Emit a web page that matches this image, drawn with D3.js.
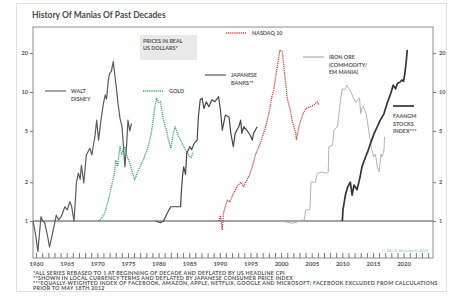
<!DOCTYPE html>
<html>
<head>
<meta charset="utf-8">
<script src="https://cdn.jsdelivr.net/npm/d3@7"></script>
<style>
  body { margin: 0; background: #fff; }
  text { font-family: Lato, "Open Sans", sans-serif; }
</style>
</head>
<body>
<div id="chart"></div>
<script>
const width = 451;
const height = 299;

// series, [year, value rebased to 1]
const disney = [[1959.5,1.0],[1959.9,0.8],[1960.3,0.58],[1960.8,1.08],[1961.1,1.0],[1961.4,0.97],[1961.8,0.8],[1962.2,0.63],[1962.8,0.85],[1963.3,1.11],[1963.7,1.02],[1964.1,1.08],[1964.7,1.29],[1965.1,1.22],[1965.5,1.41],[1965.8,1.3],[1966.2,1.0],[1966.6,2.0],[1966.9,2.35],[1967.2,2.1],[1967.4,2.7],[1967.8,1.97],[1968.2,3.25],[1968.8,3.66],[1969.1,3.25],[1969.6,4.5],[1969.9,6.05],[1970.2,4.24],[1970.6,6.05],[1971.0,8.15],[1971.3,9.5],[1971.5,8.8],[1971.8,12.4],[1972.0,13.9],[1972.3,14.5],[1972.6,17.2],[1972.9,12.9],[1973.1,10.9],[1973.4,8.0],[1973.7,6.25],[1974.0,5.5],[1974.2,4.24],[1974.5,2.63],[1974.8,4.0],[1975.0,6.05],[1975.3,5.0],[1975.6,5.7]];
const gold = [[1970.2,1.0],[1970.7,1.05],[1971.2,1.15],[1971.8,1.45],[1972.3,1.85],[1972.8,2.34],[1973.0,2.97],[1973.3,2.65],[1973.7,3.77],[1974.0,3.3],[1974.2,3.57],[1974.5,3.77],[1974.8,3.25],[1975.3,2.8],[1975.7,2.4],[1976.1,2.08],[1976.7,2.48],[1977.5,2.97],[1978.3,3.77],[1978.8,4.78],[1979.1,6.0],[1979.4,7.7],[1979.7,8.95],[1980.0,8.3],[1980.3,8.4],[1980.8,6.05],[1981.3,5.07],[1981.6,4.24],[1982.0,3.66],[1982.4,4.78],[1982.7,5.38],[1983.3,4.5],[1984.1,3.77],[1984.9,3.25],[1985.3,3.1],[1985.7,3.45]];
const japaneseBanks = [[1979.5,1.0],[1980.3,0.97],[1980.8,1.0],[1981.4,1.15],[1982.0,1.29],[1983.6,1.29],[1983.7,1.64],[1983.9,2.2],[1984.1,2.63],[1984.4,2.3],[1984.6,3.35],[1985.1,3.77],[1985.4,3.57],[1985.8,4.0],[1986.3,4.24],[1986.5,6.43],[1986.8,8.7],[1987.1,8.95],[1987.4,7.45],[1987.8,8.4],[1988.2,7.7],[1988.7,8.7],[1989.2,8.4],[1989.8,9.2],[1990.1,7.25],[1990.4,5.07],[1990.9,6.63],[1991.5,6.4],[1991.8,4.78],[1992.2,3.77],[1992.5,4.78],[1993.1,5.38],[1993.4,6.05],[1993.6,4.78],[1993.9,5.38],[1994.4,5.07],[1995.0,4.6],[1995.3,4.24],[1995.5,4.78],[1996.1,5.38]];
const nasdaq = [[1989.8,1.0],[1990.1,1.1],[1990.4,0.85],[1990.6,1.15],[1991.2,1.45],[1991.6,1.4],[1992.0,1.55],[1992.8,1.85],[1993.4,2.0],[1993.9,1.85],[1994.4,2.08],[1994.9,2.3],[1995.3,2.63],[1995.8,3.25],[1996.6,4.0],[1997.4,5.2],[1998.0,6.8],[1998.5,9.2],[1998.8,10.4],[1999.3,14.8],[1999.8,21.2],[2000.2,20.5],[2000.4,16.7],[2000.7,12.4],[2001.0,8.9],[2001.5,7.25],[2001.8,6.05],[2002.4,4.78],[2002.5,4.24],[2002.9,5.38],[2003.4,6.43],[2004.0,7.45],[2004.8,7.7],[2005.3,7.9],[2005.9,8.4],[2006.2,7.9]];
const ironOre = [[1999.9,1.0],[2001.0,0.98],[2001.8,0.96],[2002.6,0.98],[2003.0,1.01],[2003.8,1.02],[2004.0,1.22],[2004.7,1.22],[2004.9,2.0],[2005.6,2.0],[2005.9,2.34],[2006.6,2.4],[2007.4,2.34],[2007.7,2.4],[2007.8,3.77],[2008.4,3.85],[2008.6,5.07],[2009.2,5.38],[2009.4,6.43],[2009.7,8.7],[2010.0,10.6],[2010.4,10.4],[2010.7,11.3],[2011.1,10.6],[2011.4,10.0],[2011.8,9.0],[2012.2,8.3],[2012.5,8.7],[2012.8,9.0],[2013.0,6.8],[2013.2,7.5],[2013.4,7.7],[2013.9,6.8],[2014.3,5.07],[2014.7,3.77],[2015.1,3.15],[2015.4,3.3],[2015.7,2.63],[2016.0,2.4],[2016.3,3.3],[2016.5,3.15],[2016.8,3.55],[2016.9,4.5]];
const faangm = [[2010.0,1.0],[2010.1,1.22],[2010.5,1.59],[2010.9,1.85],[2011.3,2.0],[2011.6,1.59],[2011.9,1.9],[2012.4,1.75],[2012.9,2.2],[2013.2,2.63],[2013.8,3.15],[2014.1,3.4],[2014.6,4.0],[2015.2,4.78],[2015.7,5.38],[2016.2,6.05],[2016.8,6.8],[2017.3,8.15],[2017.9,9.75],[2018.3,11.3],[2018.7,10.6],[2019.0,11.7],[2019.4,11.9],[2019.7,12.4],[2020.0,12.1],[2020.2,13.9],[2020.4,16.7],[2020.6,21.2]];

const yTicks = [1, 2, 5, 10, 20];
const yearTicks = d3.range(1960, 2025);
const yearLabels = d3.range(1960, 2021, 5);

const footnotes = [
  "*ALL SERIES REBASED TO 1 AT BEGINNING OF DECADE AND DEFLATED BY US HEADLINE CPI",
  "**SHOWN IN LOCAL CURRENCY TERMS AND DEFLATED BY JAPANESE CONSUMER PRICE INDEX",
  "***EQUALLY-WEIGHTED INDEX OF FACEBOOK, AMAZON, APPLE, NETFLIX, GOOGLE AND MICROSOFT; FACEBOOK EXCLUDED FROM CALCULATIONS",
  "PRIOR TO MAY 18TH 2012"
];

const textColor = "#555";
const plot = { left: 33, right: 433, top: 27, bottom: 258 };

const svg = d3.select("#chart")
  .append("svg")
  .attr("width", width)
  .attr("height", height);

// card
svg.append("rect")
  .attr("x", 16.5).attr("y", 3.5)
  .attr("width", 430).attr("height", 288)
  .attr("fill", "#fff")
  .attr("stroke", "#e2e2e2");

svg.append("text")
  .attr("x", 32).attr("y", 18)
  .attr("fill", "#4a4a4a")
  .style("font-size", "8.5px")
  .style("font-weight", "bold")
  .text("History Of Manias Of Past Decades");

const x = d3.scaleLinear()
  .domain([1959.5, 2024.8])
  .range([plot.left, plot.right]);

const y = d3.scaleLog()
  .domain([0.517, 31.9])
  .range([plot.bottom, plot.top]);

// frame
svg.append("rect")
  .attr("x", plot.left).attr("y", plot.top)
  .attr("width", plot.right - plot.left)
  .attr("height", plot.bottom - plot.top)
  .attr("fill", "none")
  .attr("stroke", "#8c8c8c")
  .attr("stroke-width", 1);

// axes
const leftAxis = svg.append("g")
  .attr("transform", `translate(${plot.left},0)`)
  .call(d3.axisLeft(y).tickValues(yTicks).tickSize(3).tickPadding(2).tickFormat(d3.format("d")));
const rightAxis = svg.append("g")
  .attr("transform", `translate(${plot.right},0)`)
  .call(d3.axisRight(y).tickValues(yTicks).tickSize(3).tickPadding(3).tickFormat(d3.format("d")));
const tickAxis = svg.append("g")
  .attr("transform", `translate(0,${plot.bottom})`)
  .call(d3.axisBottom(x).tickValues(yearTicks).tickSizeInner(-5).tickSizeOuter(0).tickFormat(""));
const labelAxis = svg.append("g")
  .attr("transform", `translate(0,${plot.bottom})`)
  .call(d3.axisBottom(x).tickValues(yearLabels).tickSize(0).tickPadding(4).tickFormat(d3.format("d")));

[leftAxis, rightAxis, tickAxis, labelAxis].forEach(g => {
  g.select(".domain").remove();
  g.selectAll("line").attr("stroke", "#777");
  g.selectAll("text")
    .attr("fill", textColor)
    .style("font-size", "5.6px")
    .style("font-weight", "bold")
    .style("font-family", "Lato, sans-serif");
});
labelAxis.selectAll("text").style("font-size", "6px");

// rebased level line
svg.append("line")
  .attr("x1", plot.left).attr("x2", plot.right)
  .attr("y1", y(1)).attr("y2", y(1))
  .attr("stroke", "#858585")
  .attr("stroke-width", 1.4);

const line = d3.line()
  .x(d => x(d[0]))
  .y(d => y(d[1]));

const series = [
  { data: disney, color: "#5b5b5b", width: 1.2, dash: null },
  { data: gold, color: "#35a579", width: 1.3, dash: "1.2,0.9" },
  { data: japaneseBanks, color: "#474747", width: 1.2, dash: null },
  { data: nasdaq, color: "#c4443f", width: 1.3, dash: "1.2,0.9" },
  { data: ironOre, color: "#b3b3b3", width: 1.0, dash: null },
  { data: faangm, color: "#343434", width: 1.7, dash: null }
];

svg.append("g")
  .selectAll("path")
  .data(series)
  .enter()
  .append("path")
  .attr("d", d => line(d.data))
  .attr("fill", "none")
  .attr("stroke", d => d.color)
  .attr("stroke-width", d => d.width)
  .attr("stroke-dasharray", d => d.dash)
  .attr("stroke-linejoin", "round");

// legend labels
const legendItems = [
  { x: 45, y: 91, color: "#5b5b5b", width: 1.1, dash: null, lines: ["WALT", "DISNEY"] },
  { x: 143, y: 91, color: "#35a579", width: 1.3, dash: "1.2,0.9", lines: ["GOLD"] },
  { x: 205, y: 75, color: "#474747", width: 1.1, dash: null, lines: ["JAPANESE", "BANKS**"] },
  { x: 226, y: 33, color: "#c4443f", width: 1.3, dash: "1.2,0.9", lines: ["NASDAQ  10"] },
  { x: 303, y: 57, color: "#9a9a9a", width: 1.0, dash: null, lines: ["IRON ORE", "(COMMODITY/", "EM MANIA)"] }
];

const legend = svg.append("g");
legendItems.forEach(item => {
  legend.append("line")
    .attr("x1", item.x).attr("x2", item.x + 21)
    .attr("y1", item.y).attr("y2", item.y)
    .attr("stroke", item.color)
    .attr("stroke-width", item.width)
    .attr("stroke-dasharray", item.dash);
  const t = legend.append("text")
    .attr("x", item.x + 26)
    .attr("y", item.y + 2)
    .attr("fill", textColor)
    .style("font-size", "5.4px")
    .style("font-weight", "bold");
  item.lines.forEach((s, i) => {
    t.append("tspan").attr("x", item.x + 26).attr("dy", i === 0 ? 0 : 7.6).text(s);
  });
});

// FAANGM legend sits with its text below the line
legend.append("line")
  .attr("x1", 393).attr("x2", 414)
  .attr("y1", 106).attr("y2", 106)
  .attr("stroke", "#343434")
  .attr("stroke-width", 1.7);
const ft = legend.append("text")
  .attr("fill", textColor)
  .style("font-size", "5.4px")
  .style("font-weight", "bold");
["FAANGM", "STOCKS", "INDEX***"].forEach((s, i) => {
  ft.append("tspan").attr("x", 393).attr("y", 118 + i * 7.6).text(s);
});

// note box
svg.append("rect")
  .attr("x", 140).attr("y", 35)
  .attr("width", 57).attr("height", 25)
  .attr("fill", "#e9e9e9");
const nt = svg.append("text")
  .attr("fill", textColor)
  .style("font-size", "5.4px")
  .style("font-weight", "bold");
["PRICES IN REAL", "US DOLLARS*"].forEach((s, i) => {
  nt.append("tspan").attr("x", 143).attr("y", 43 + i * 7).text(s);
});

svg.append("text")
  .attr("x", 428).attr("y", 252)
  .attr("text-anchor", "end")
  .attr("fill", "#7cc4a2")
  .style("font-size", "5px")
  .style("font-family", "'Liberation Serif', serif")
  .text("© BCA Research 2020");

// footnotes
svg.append("g")
  .selectAll("text")
  .data(footnotes)
  .enter()
  .append("text")
  .attr("x", 33)
  .attr("y", (d, i) => 275 + i * 4.9)
  .attr("fill", textColor)
  .style("font-size", "5.3px")
  .style("font-weight", "bold")
  .style("letter-spacing", "0.28px")
  .text(d => d);
</script>
</body>
</html>
